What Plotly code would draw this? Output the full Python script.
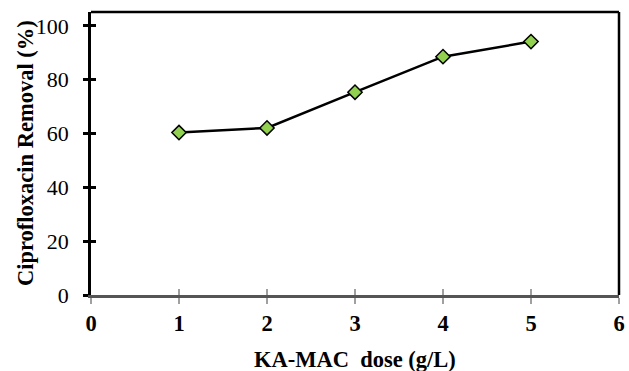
import plotly.graph_objects as go

# KA-MAC dose (g/L) and ciprofloxacin removal (%)
dose = [1, 2, 3, 4, 5]
removal = [60.4, 62.1, 75.4, 88.6, 94.2]
x_ticks = [0, 1, 2, 3, 4, 5, 6]
y_ticks = [0, 20, 40, 60, 80, 100]
x_range = [0, 6]
y_range = [0, 105.2]

serif = "Liberation Serif, Times New Roman, serif"

fig = go.Figure()
fig.add_trace(go.Scatter(
    x=dose, y=removal, mode="lines+markers",
    line=dict(color="black", width=2.5),
    marker=dict(symbol="diamond", size=11, color="#92D050",
                line=dict(color="black", width=1.5)),
    showlegend=False, cliponaxis=False,
))
# invisible trace carrying the inner halves of the crossing tick marks
fig.add_trace(go.Scatter(x=x_range, y=y_range, xaxis="x2", yaxis="y2", mode="none",
                         showlegend=False, hoverinfo="skip"))

fig.update_layout(
    width=629, height=371,
    margin=dict(l=91, r=4, t=12, b=76),
    paper_bgcolor="white", plot_bgcolor="white",
    font=dict(family=serif, color="black"),
    xaxis=dict(range=x_range, tickvals=x_ticks, showgrid=False, zeroline=False,
               showline=True, linecolor="#555555", linewidth=3,
               ticks="outside", ticklen=6, tickwidth=1.5, tickcolor="#a0a0a0",
               ticklabeloverflow="allow",
               tickfont=dict(family=serif, size=22.5, color="black", weight="bold"),
               fixedrange=True),
    xaxis2=dict(range=x_range, tickvals=x_ticks, overlaying="x", side="bottom",
                showgrid=False, zeroline=False, showline=False, showticklabels=False,
                ticks="inside", ticklen=6, tickwidth=1.5, tickcolor="#a0a0a0"),
    yaxis=dict(range=y_range, tickvals=y_ticks, showgrid=False, zeroline=False,
               showline=True, linecolor="black", linewidth=2.5,
               ticks="outside", ticklen=5, tickwidth=2.5, tickcolor="black",
               ticklabelstandoff=10,
               tickfont=dict(family=serif, size=22, color="black"),
               fixedrange=True),
    yaxis2=dict(range=y_range, tickvals=y_ticks, overlaying="y", side="left",
                showgrid=False, zeroline=False, showline=False, showticklabels=False,
                ticks="inside", ticklen=5, tickwidth=2.5, tickcolor="black"),
    shapes=[
        dict(type="line", xref="paper", yref="paper", x0=0, x1=1, y0=1, y1=1,
             line=dict(color="black", width=2.5)),
        dict(type="line", xref="paper", yref="paper", x0=1, x1=1, y0=0, y1=1,
             line=dict(color="black", width=2.5)),
    ],
    annotations=[
        dict(text="Ciprofloxacin Removal (%)", xref="paper", yref="paper",
             x=-0.124, y=0.5, textangle=-90, showarrow=False,
             xanchor="center", yanchor="middle",
             font=dict(family=serif, size=22.5, color="black", weight="bold")),
        dict(text="KA-MAC&nbsp;&nbsp;dose (g/L)", xref="paper", yref="paper",
             x=0.5, y=-0.228, showarrow=False, xanchor="center", yanchor="middle",
             font=dict(family=serif, size=22.5, color="black", weight="bold")),
    ],
)

fig.write_html("out.html")
